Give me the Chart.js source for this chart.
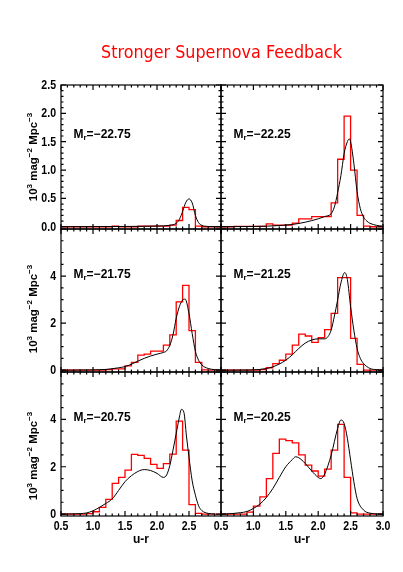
<!DOCTYPE html>
<html><head><meta charset="utf-8">
<script src="https://cdn.jsdelivr.net/npm/chart.js@4.4.1/dist/chart.umd.min.js"></script>
<style>
html,body{margin:0;padding:0;background:#fff;width:403px;height:572px;overflow:hidden}
canvas{position:absolute;left:0;top:0}
</style></head><body>
<canvas id="c0" width="403" height="572"></canvas>
<canvas id="c1" width="403" height="572"></canvas>
<canvas id="c2" width="403" height="572"></canvas>
<canvas id="c3" width="403" height="572"></canvas>
<canvas id="c4" width="403" height="572"></canvas>
<canvas id="c5" width="403" height="572"></canvas>
<script>
// ---------------- DATA ----------------
const titleText = 'Stronger Supernova Feedback';
const magLabels = ['−22.75', '−22.25', '−21.75', '−21.25', '−20.75', '−20.25'];
const binStart = 0.5, binWidth = 0.1;   // u-r bins 0.5 .. 3.0
// red histograms (10^3 mag^-2 Mpc^-3), 25 bins from 0.5 to 3.0
const red2275 = [0,0,0,0,0,0,0,0,0.01,0,0,0,0.01,0.01,0.01,0.01,0.01,0.03,0.11,0.34,0.30,0.01,0,0,0];
const red2225 = [0,0,0.005,0.005,0.005,0.005,0.005,0.05,0.03,0.03,0.03,0.065,0.14,0.14,0.18,0.18,0.18,0.42,1.19,1.95,1.0,0.2,0.01,0,0];
const red2175 = [0,0,0,0,0,0,0,0.02,0.05,0.05,0.18,0.33,0.64,0.68,0.81,0.81,1.06,1.5,2.9,3.6,1.68,0.33,0.01,0,0];
const red2125 = [0,0,0,0,0,0,0.02,0.1,0.28,0.42,0.68,1.06,1.53,1.45,1.18,1.38,1.72,2.41,3.93,3.93,1.35,0.24,0,0,0];
const red2075 = [0,0,0,0,0.02,0.1,0.28,0.62,1.3,1.55,1.86,2.52,2.48,2.35,2.1,1.93,2.13,2.53,3.93,2.7,0.4,0.03,0,0,0];
const red2025 = [0,0,0,0,0.08,0.34,0.73,1.5,2.56,3.17,3.1,3.01,2.5,2.07,1.82,1.6,1.9,2.7,3.79,1.55,0.05,0,0,0,0];
// black model curves
const curveX2275 = [0.5,1.0,1.5,2.0,2.2,2.3,2.35,2.4,2.45,2.5,2.55,2.6,2.65,2.7,2.8,3.0];
const curveY2275 = [0,0.002,0.005,0.012,0.025,0.06,0.13,0.27,0.43,0.49,0.42,0.2,0.07,0.025,0.005,0];
const curveX2225 = [0.5,1.0,1.3,1.6,1.8,2.0,2.1,2.2,2.25,2.3,2.35,2.4,2.45,2.48,2.5,2.55,2.6,2.65,2.7,2.75,2.8,2.9,3.0];
const curveY2225 = [0,0.005,0.015,0.04,0.08,0.14,0.18,0.23,0.35,0.6,0.9,1.29,1.5,1.55,1.5,1.12,0.62,0.32,0.17,0.1,0.06,0.025,0.01];
const curveX2175 = [0.5,1.0,1.2,1.3,1.4,1.5,1.6,1.7,1.8,1.9,2.0,2.1,2.15,2.2,2.25,2.3,2.35,2.4,2.44,2.5,2.55,2.6,2.65,2.7,2.8,2.9,3.0];
const curveY2175 = [0,0.01,0.03,0.06,0.1,0.15,0.25,0.38,0.5,0.6,0.68,0.75,0.82,1.05,1.5,2.2,2.7,2.98,3.02,2.4,1.55,0.8,0.42,0.22,0.07,0.02,0.005];
const curveX2125 = [0.5,0.9,1.0,1.1,1.2,1.3,1.4,1.5,1.6,1.7,1.8,1.9,2.0,2.1,2.15,2.2,2.25,2.3,2.35,2.41,2.45,2.5,2.55,2.6,2.65,2.7,2.8,2.9,3.0];
const curveY2125 = [0,0.005,0.01,0.03,0.07,0.14,0.26,0.42,0.65,0.92,1.15,1.28,1.33,1.33,1.42,1.7,2.3,2.98,3.7,4.15,3.85,2.7,1.7,0.92,0.5,0.28,0.07,0.02,0.005];
const curveX2075 = [0.5,0.7,0.8,0.9,1.0,1.1,1.2,1.3,1.4,1.5,1.6,1.7,1.8,1.9,2.0,2.1,2.15,2.2,2.25,2.3,2.35,2.38,2.42,2.46,2.5,2.55,2.6,2.65,2.7,2.8,2.9];
const curveY2075 = [0,0.01,0.02,0.05,0.14,0.28,0.45,0.64,1.0,1.37,1.62,1.8,1.88,1.84,1.72,1.55,1.65,2.05,2.7,3.4,4.1,4.42,4.3,3.3,2.4,1.4,0.8,0.35,0.15,0.03,0.005];
const curveX2025 = [0.5,0.6,0.7,0.8,0.9,1.0,1.1,1.2,1.3,1.4,1.5,1.6,1.65,1.7,1.8,1.9,2.0,2.04,2.1,2.2,2.3,2.35,2.4,2.45,2.5,2.55,2.6,2.7,2.8,2.9,3.0];
const curveY2025 = [0.005,0.01,0.03,0.06,0.11,0.24,0.42,0.7,1.08,1.55,2.0,2.3,2.42,2.38,2.14,1.82,1.55,1.5,1.69,2.49,3.62,3.97,3.83,3.2,2.28,1.37,0.66,0.17,0.04,0.01,0];
// tick labels
const xTickLabelsLeft = ['0.5','1.0','1.5','2.0','2.5'];
const xTickLabelsRight = ['0.5','1.0','1.5','2.0','2.5','3.0'];
const yTickLabelsTop = ['0.0','0.5','1.0','1.5','2.0','2.5'];
const yTickLabelsLower = ['0','2','4'];

// ---------------- LAYOUT ----------------
const W = 403, H = 572;
const cols = [{left:61, right:221}, {left:221, right:383}];
const rows = [
  {top:85,  bottom:229, ymin:-0.04, ymax:2.5, minor:0.1, major:0.5, labels:yTickLabelsTop,   mBase:137.5, titleMid:157},
  {top:229, bottom:372, ymin:-0.08, ymax:6,   minor:0.5, major:2,   labels:yTickLabelsLower, mBase:278,   titleMid:309},
  {top:372, bottom:516, ymin:-0.08, ymax:6,   minor:0.5, major:2,   labels:yTickLabelsLower, mBase:420.5, titleMid:456}
];
const panels = [
  {red:red2275, cx:curveX2275, cy:curveY2275},
  {red:red2225, cx:curveX2225, cy:curveY2225},
  {red:red2175, cx:curveX2175, cy:curveY2175},
  {red:red2125, cx:curveX2125, cy:curveY2125},
  {red:red2075, cx:curveX2075, cy:curveY2075},
  {red:red2025, cx:curveX2025, cy:curveY2025}
];
const FONT = '"Liberation Sans", Arial, Helvetica, sans-serif';

function histPoints(vals){
  const pts = [];
  vals.forEach((v,k)=>{
    const e0 = binStart + k*binWidth, e1 = binStart + (k+1)*binWidth;
    pts.push({x:e0, y:v}, {x:e1, y:v});
  });
  return pts;
}
function curvePoints(xs, ys){ return xs.map((x,i)=>({x, y:ys[i]})); }

function scaledText(ctx, text, x, y, align, sx){
  const w = ctx.measureText(text).width * sx;
  let x0 = x;
  if (align === 'center') x0 = x - w/2; else if (align === 'right') x0 = x - w;
  ctx.save(); ctx.translate(x0, y); ctx.scale(sx, 1); ctx.textAlign='left'; ctx.fillText(text, 0, 0); ctx.restore();
}

function drawYTitle(ctx, xBase, yMid){
  const parts = [['10',0],['3',1],[' mag',0],['−2',1],[' Mpc',0],['−3',1]];
  const fb = 'bold 11.5px '+FONT, fs = 'bold 8px '+FONT;
  let total = 0;
  parts.forEach(([t,s])=>{ ctx.font = s?fs:fb; total += ctx.measureText(t).width; });
  ctx.save(); ctx.translate(xBase, yMid); ctx.rotate(-Math.PI/2);
  ctx.textAlign='left'; ctx.textBaseline='alphabetic'; ctx.fillStyle='#000';
  let x = -total/2;
  parts.forEach(([t,s])=>{ ctx.font = s?fs:fb; ctx.fillText(t, x, s?-4.5:0); x += ctx.measureText(t).width; });
  ctx.restore();
}

const deco = {
  id:'deco',
  afterDatasetsDraw(chart){
    const o = chart.options.plugins.deco;
    const {ctx, chartArea:a} = chart;
    const xs = chart.scales.x, ys = chart.scales.y;
    const row = rows[o.row];
    ctx.save();
    ctx.strokeStyle = '#000'; ctx.fillStyle = '#000'; ctx.lineWidth = 1.2;
    // frame
    ctx.strokeRect(a.left, a.top, a.right-a.left, a.bottom-a.top);
    // x ticks (minor every 0.1, major every 0.5)
    ctx.beginPath();
    for (let i=5;i<=30;i++){
      const px = xs.getPixelForValue(i/10);
      const len = (i%5===0) ? 5 : 2.5;
      ctx.moveTo(px, a.bottom); ctx.lineTo(px, a.bottom-len);
      ctx.moveTo(px, a.top); ctx.lineTo(px, a.top+len);
    }
    // y ticks
    const nMinor = Math.round(row.ymax/row.minor);
    const per = Math.round(row.major/row.minor);
    for (let j=0;j<=nMinor;j++){
      const py = ys.getPixelForValue(j*row.minor);
      const len = (j%per===0) ? 5 : 2.5;
      ctx.moveTo(a.left, py); ctx.lineTo(a.left+len, py);
      ctx.moveTo(a.right, py); ctx.lineTo(a.right-len, py);
    }
    ctx.stroke();
    // y tick labels
    if (o.col===0){
      ctx.font = 'bold 12px '+FONT; ctx.textBaseline='middle';
      row.labels.forEach((lab)=>{
        const py = ys.getPixelForValue(parseFloat(lab));
        scaledText(ctx, lab, a.left-5, py+0.5, 'right', 0.88);
      });
      drawYTitle(ctx, 36.5, row.titleMid);
    }
    // x tick labels on bottom row
    if (o.row===2){
      ctx.font = 'bold 12px '+FONT; ctx.textBaseline='alphabetic';
      const labs = o.col===0 ? xTickLabelsLeft : xTickLabelsRight;
      labs.forEach((lab)=>{
        const px = xs.getPixelForValue(parseFloat(lab));
        scaledText(ctx, lab, px, 529.5, 'center', 0.88);
      });
      ctx.font = 'bold 12px '+FONT;
      scaledText(ctx, 'u-r', (a.left+a.right)/2, 543, 'center', 1);
    }
    // magnitude label
    let mx = a.left + 12.5;
    ctx.textBaseline='alphabetic'; ctx.textAlign='left';
    ctx.font = 'bold 12px '+FONT; ctx.fillText('M', mx, row.mBase); mx += ctx.measureText('M').width;
    ctx.font = 'bold 8px '+FONT; ctx.fillText('r', mx, row.mBase+2); mx += ctx.measureText('r').width;
    ctx.font = 'bold 12px '+FONT; ctx.fillText('=' + o.mag, mx, row.mBase);
    // title
    if (o.title){
      ctx.fillStyle = '#ff0000'; ctx.font = '18px "DejaVu Sans", sans-serif';
      const w = ctx.measureText(titleText).width;
      ctx.save(); ctx.translate(101, 58.3); ctx.scale(241/w, 1); ctx.fillText(titleText, 0, 0); ctx.restore();
    }
    ctx.restore();
  }
};

panels.forEach((p, idx)=>{
  const col = idx % 2, r = Math.floor(idx/2);
  const c = cols[col], row = rows[r];
  new Chart(document.getElementById('c'+idx), {
    type:'scatter',
    data:{ datasets:[
      {data:curvePoints(p.cx, p.cy), showLine:true, borderColor:'#000', borderWidth:1, pointRadius:0, cubicInterpolationMode:'monotone', order:0},
      {data:histPoints(p.red), showLine:true, borderColor:'#ff0000', borderWidth:1.3, pointRadius:0, tension:0, order:1}
    ]},
    options:{
      responsive:false, animation:false, events:[],
      layout:{padding:{left:c.left, right:W-c.right, top:row.top, bottom:H-row.bottom}},
      scales:{
        x:{type:'linear', min:0.5, max:3.0, display:false},
        y:{type:'linear', min:row.ymin, max:row.ymax, display:false}
      },
      plugins:{legend:{display:false}, tooltip:{enabled:false},
        deco:{col, row:r, mag:magLabels[idx], title: idx===0}}
    },
    plugins:[deco]
  });
});
</script>
</body></html>
